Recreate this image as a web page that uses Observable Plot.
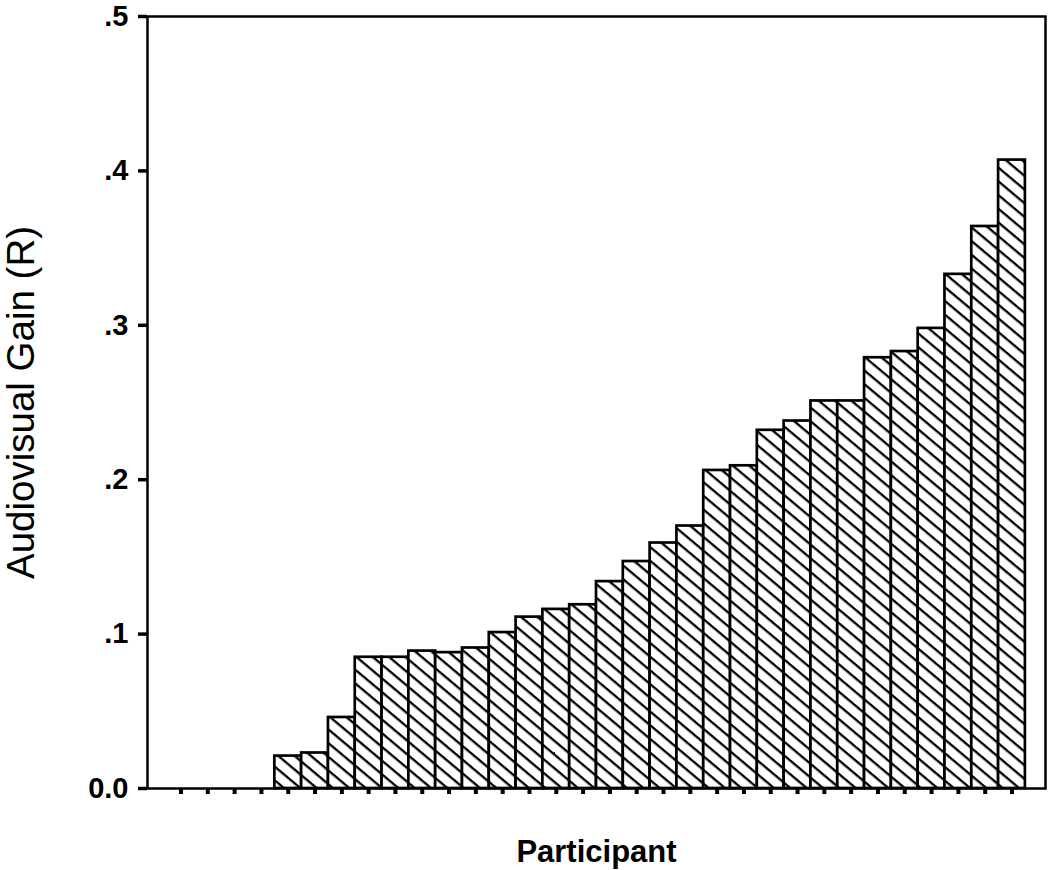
<!DOCTYPE html>
<html>
<head>
<meta charset="utf-8">
<script src="https://cdn.jsdelivr.net/npm/d3@7"></script>
<script src="https://cdn.jsdelivr.net/npm/@observablehq/plot@0.6"></script>
<style>
  html, body { margin: 0; padding: 0; background: #fff; }
  #chart svg { display: block; }
</style>
</head>
<body>
<div id="chart"></div>
<script>
// Participants (sorted by gain), audiovisual gain values
const participants = [1,2,3,4,5,6,7,8,9,10,11,12,13,14,15,16,17,18,19,20,21,22,23,24,25,26,27,28,29,30,31,32];
const gains = [0,0,0,0,0.021,0.023,0.046,0.085,0.085,0.089,0.088,0.091,0.101,0.111,0.116,0.119,0.134,0.147,0.159,0.170,0.206,0.209,0.232,0.238,0.251,0.251,0.279,0.283,0.298,0.333,0.364,0.407];
const yTicks = [0, 0.1, 0.2, 0.3, 0.4, 0.5];
const yTickLabels = ["0.0", ".1", ".2", ".3", ".4", ".5"];
const yTitle = "Audiovisual Gain (R)";
const xTitle = "Participant";

const table = participants.map((p, i) => ({p, v: gains[i]}));

const chart = Plot.plot({
  width: 1050,
  height: 870,
  marginLeft: 147,
  marginRight: 5,
  marginTop: 16,
  marginBottom: 82,
  style: {fontFamily: "'Liberation Sans', Arial, sans-serif", color: "black", background: "white", overflow: "visible"},
  x: {type: "band", domain: participants, paddingInner: 0, paddingOuter: 0.75, round: false, axis: null},
  y: {domain: [0, 0.5], axis: null},
  marks: [
    Plot.barY(table, {filter: d => d.v > 0, x: "p", y: "v", fill: "url(#hatch)", stroke: "black", strokeWidth: 2.7, inset: 0}),
    Plot.frame({stroke: "black", strokeWidth: 2.5}),
    Plot.axisY({ticks: yTicks, tickFormat: () => "", tickSize: 9, strokeWidth: 3.5, label: null}),
    Plot.text(yTicks, {y: d => d, text: (d, i) => yTickLabels[i], frameAnchor: "left", textAnchor: "end", lineAnchor: "middle", dx: -19, fontSize: 29, fontWeight: "bold", fill: "black"}),
    Plot.axisX({tickSize: 6, strokeWidth: 4, tickFormat: () => "", label: null}),
    Plot.text([yTitle], {frameAnchor: "left", textAnchor: "middle", lineAnchor: "middle", dx: -126, rotate: -90, fontSize: 38.5, fill: "black"}),
    Plot.text([xTitle], {frameAnchor: "bottom", textAnchor: "middle", lineAnchor: "middle", dy: 64, fontSize: 31, fontWeight: "bold", fill: "black"})
  ]
});

// hatch pattern definition
const ns = "http://www.w3.org/2000/svg";
const defs = document.createElementNS(ns, "defs");
const pat = document.createElementNS(ns, "pattern");
pat.setAttribute("id", "hatch");
pat.setAttribute("patternUnits", "userSpaceOnUse");
pat.setAttribute("width", "10");
pat.setAttribute("height", "10.5");
pat.setAttribute("patternTransform", "rotate(40)");
const bg = document.createElementNS(ns, "rect");
bg.setAttribute("width", "10"); bg.setAttribute("height", "10.5"); bg.setAttribute("fill", "white");
const ln = document.createElementNS(ns, "rect");
ln.setAttribute("width", "10"); ln.setAttribute("height", "2.3"); ln.setAttribute("y", "0"); ln.setAttribute("fill", "black");
pat.appendChild(bg); pat.appendChild(ln);
defs.appendChild(pat);
chart.insertBefore(defs, chart.firstChild);

document.getElementById("chart").appendChild(chart);
</script>
</body>
</html>
